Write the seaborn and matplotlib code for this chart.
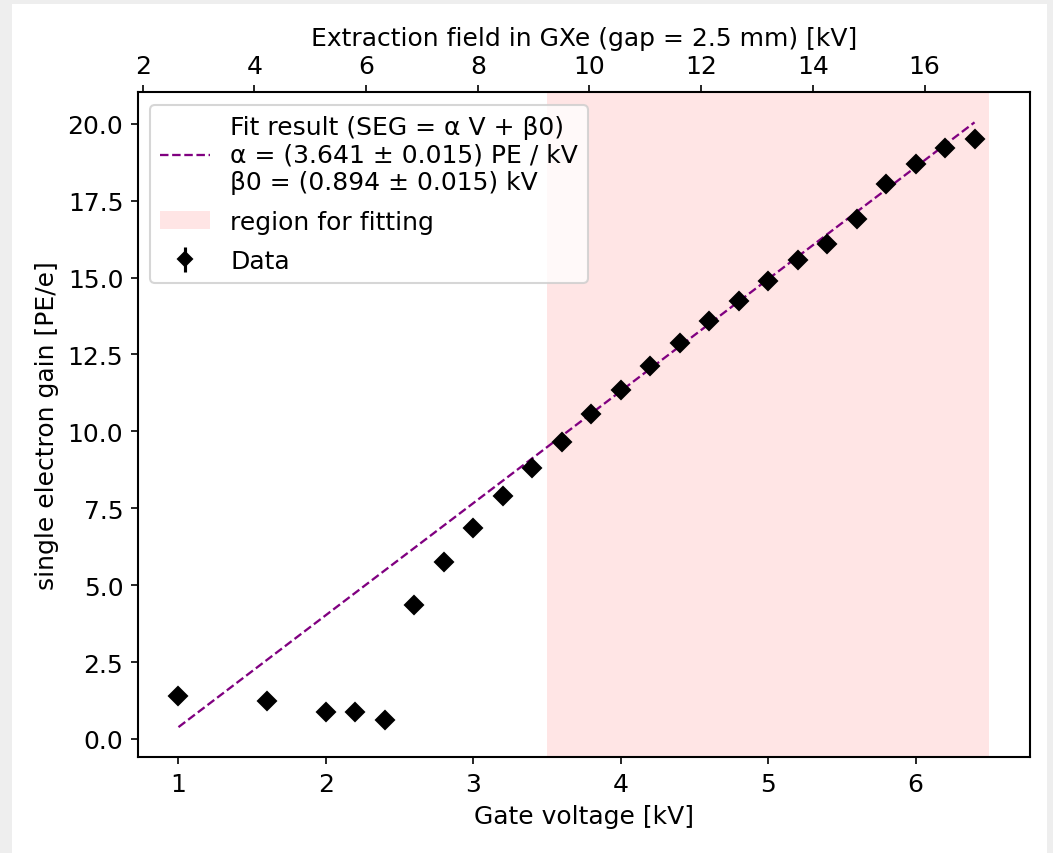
import numpy as np
import pandas as pd
import matplotlib
matplotlib.use("Agg")
import matplotlib.pyplot as plt
import seaborn as sns

# Measured single electron gain vs gate voltage
gate_voltage = [1.0, 1.6, 2.0, 2.2, 2.4, 2.6, 2.8, 3.0, 3.2, 3.4, 3.6, 3.8, 4.0,
                4.2, 4.4, 4.6, 4.8, 5.0, 5.2, 5.4, 5.6, 5.8, 6.0, 6.2, 6.4]
seg = [1.40, 1.22, 0.89, 0.89, 0.63, 4.34, 5.75, 6.85, 7.90, 8.81, 9.65, 10.57,
       11.35, 12.13, 12.88, 13.60, 14.25, 14.90, 15.58, 16.10, 16.92, 18.03,
       18.68, 19.20, 19.50]
seg_err = [0.05, 0.05, 0.05, 0.05, 0.05, 0.08, 0.08, 0.08, 0.08, 0.08, 0.08, 0.08,
           0.08, 0.08, 0.08, 0.08, 0.08, 0.08, 0.08, 0.08, 0.08, 0.08, 0.08, 0.08, 0.08]

# Linear fit parameters: SEG = alpha * (V - beta0)
alpha = 3.641
beta0 = 0.894
fit_range = [3.5, 6.5]

# Gate voltage [kV] -> extraction field in GXe [kV]
field_per_kv = 2.64

FS = 12

fig = plt.figure(figsize=(7.02, 5.6933), dpi=150)
fig.patch.set_facecolor("#eeeeee")
fig.patches.append(plt.Rectangle((12 / 1053, 0), 1 - 18 / 1053, 1 - 5 / 854,
                                 transform=fig.transFigure, facecolor="white",
                                 edgecolor="none", zorder=-10))
ax = fig.add_axes([0.131, 0.112, 0.847, 0.779])

v_line = np.array([gate_voltage[0], gate_voltage[-1]])
fit_df = pd.DataFrame({"V": v_line, "SEG": alpha * (v_line - beta0)})
sns.lineplot(data=fit_df, x="V", y="SEG", ax=ax, color="purple", lw=1.1,
             linestyle="--",
             label="Fit result (SEG = \u03b1 V + \u03b20)\n"
                   f"\u03b1 = ({alpha:.3f} \u00b1 0.015) PE / kV\n"
                   f"\u03b20 = ({beta0:.3f} \u00b1 0.015) kV")
ax.axvspan(fit_range[0], fit_range[1], color="red", alpha=0.1, lw=0,
           label="region for fitting")
ax.errorbar(gate_voltage, seg, yerr=seg_err, fmt="D", color="black",
            markersize=6, label="Data")

ax.set_xlabel("Gate voltage [kV]", fontsize=FS)
ax.set_ylabel("single electron gain [PE/e]", fontsize=FS)
ax.tick_params(labelsize=FS)
for s in ax.spines.values():
    s.set_color("black")
    s.set_linewidth(1)

top = ax.secondary_xaxis("top", functions=(lambda v: v * field_per_kv,
                                           lambda f: f / field_per_kv))
top.set_xlabel("Extraction field in GXe (gap = 2.5 mm) [kV]", fontsize=FS)
top.set_xticks(np.arange(2, 17, 2))
top.tick_params(labelsize=FS)

ax.legend(loc="upper left", fontsize=FS, labelspacing=0.62, markerscale=0.8)

fig.savefig("out.png", dpi=150, facecolor=fig.get_facecolor())
